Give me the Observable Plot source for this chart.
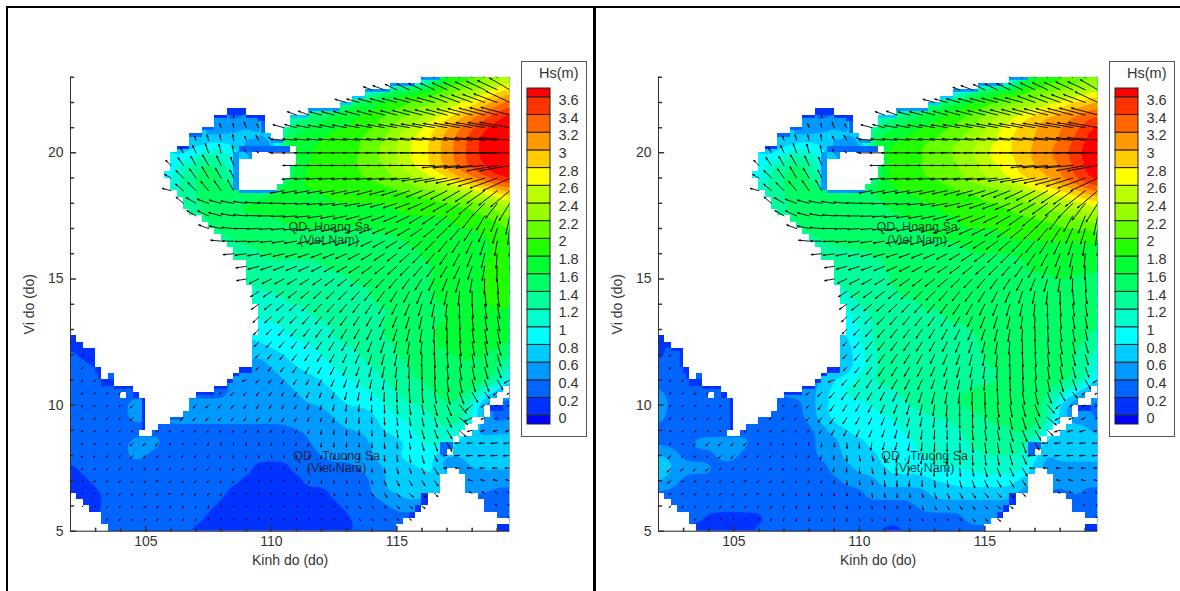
<!DOCTYPE html>
<html><head><meta charset="utf-8">
<style>
html,body{margin:0;padding:0;background:#fff}
#page{position:relative;width:1180px;height:591px;overflow:hidden;background:#fff}
#page>div{position:absolute}
.slot{background:transparent}
.line{background:#000;z-index:5}
svg{display:block}
</style>
<script src="https://cdn.jsdelivr.net/npm/d3@7"></script>
<script src="https://cdn.jsdelivr.net/npm/@observablehq/plot@0.6"></script>
</head><body>
<div id="page">
<div class="slot" id="a" style="left:0;top:0"></div>
<div class="slot" id="b" style="left:588px;top:0"></div>
<div class="slot" id="la" style="left:521px;top:61px"></div>
<div class="slot" id="lb" style="left:1109px;top:61px"></div>
<div class="line" style="left:6px;top:6px;width:1174px;height:2px"></div>
<div class="line" style="left:6px;top:6px;width:2px;height:585px"></div>
<div class="line" style="left:593px;top:6px;width:3px;height:585px"></div>
</div>
<script>
const hsLevels=[0,0.2,0.4,0.6,0.8,1,1.2,1.4,1.6,1.8,2,2.2,2.4,2.6,2.8,3,3.2,3.4,3.6];
const hsColors=["#0000ff","#0033ff","#0066ff","#0099ff","#00ccff","#00ffff","#00ffcc","#00ff99","#00ff66","#00ff33","#22ff00","#66ff00","#99ff00","#bbff00","#ffff00","#ffcc00","#ff9900","#ff6600","#ff3300","#ff0000"];
const xTicks=[105,110,115], yTicks=[5,10,15,20];
const xMinor=[103,104,106,107,108,109,111,112,113,114,116,117,118,119];
const yMinor=[6,7,8,9,11,12,13,14,16,17,18,19,21,22,23];
const placeNames=[["QD. Hoang Sa",112.3,17.05],["(Viet Nam)",112.3,16.53],["QD . Truong Sa",112.6,8.0],["(Viet Nam)",112.6,7.5]];

// Wave height in tenths of a metre: [latitude, first column (lon = 102 + col/2), values...]
const hsLeft=[
[23,28,5,14,17,18,19,21,22,24],
[22.5,24,11,15,16,17,18,19,20,22,23,25,27,29],
[22,22,15,16,17,18,19,20,21,22,24,26,27,29,31,33],
[21.5,13,3],
[21.5,18,12,14,15,16,17,18,19,20,21,22,24,25,27,29,31,33,35,37],
[21,12,5,5,7,5],
[21,17,14,15,16,17,18,18,19,20,21,23,24,26,28,30,32,34,36,37,38],
[20.5,10,5,7,7,7,5,7,5],
[20.5,17,16,17,18,18,19,19,20,21,22,24,26,27,29,31,33,35,37,38,38],
[20,9,7,10,12,11,9,5,3,3],
[20,17,16,17,18,18,19,19,20,21,23,24,26,27,29,31,33,35,37,38,38],
[19.5,8,9,12,13,15,13,11],
[19.5,18,17,18,19,19,20,20,21,22,24,26,27,29,31,33,35,36,38,38],
[19,8,9,13,14,16,14,11],
[19,18,18,18,19,19,19,20,20,21,22,23,25,26,28,30,32,34,36,37],
[18.5,8,11,13,14,15,15,15],
[18.5,17,17,18,18,18,18,19,19,19,19,20,20,21,22,23,24,25,27,29,31],
[18,9,12,14,15,15,16,16,17,17],
[18,17,17,17,17,18,18,18,18,18,18,18,19,19,19,20,20,21,22,23,25],
[17.5,10,13,15,16,16,16,16,16],
[17.5,17,16,17,17,17,17,17,17,17,17,18,18,18,18,18,19,19,20,21,23],
[17,11,13,15,15,15,15,15,16,16,16,16,16,16,16,16,16,16,17,17,17,17,18,18,18,19,20],
[16.5,12,13,14,14,14,14,15,15,15,15,15,15,15,15,16,16,16,16,16,17,17,17,18,18,19],
[16,13,13,14,14,14,14,14,14,14,15,15,15,15,15,15,16,16,16,16,17,17,18,18,18],
[15.5,14,13,14,14,14,14,14,14,14,14,15,15,15,15,16,16,16,16,17,17,18,19,19],
[15,14,12,13,13,13,13,13,13,14,14,14,14,15,15,15,16,16,16,17,17,18,19,19],
[14.5,15,12,12,12,13,13,13,13,14,14,14,15,15,15,16,16,17,17,18,18,19,18],
[14,15,11,11,12,12,12,13,13,13,13,14,14,14,15,15,16,16,17,17,18,18,18],
[13.5,15,10,11,11,11,12,12,12,13,13,13,14,14,15,15,15,16,16,17,17,18,18],
[13,15,9,9,10,11,11,12,12,13,13,14,14,15,15,16,16,17,17,17,18,18,17],
[12.5,0,1],
[12.5,15,8,9,9,10,10,11,12,12,13,13,14,14,15,15,16,16,17,17,17,17,16],
[12,0,3,1],
[12,15,6,7,8,9,9,10,11,11,12,13,13,14,15,15,16,16,16,16,16,15,14],
[11.5,0,3,3],
[11.5,15,5,6,7,8,9,9,10,11,11,12,13,13,14,15,15,15,16,16,15,14,12],
[11,0,3,3,3],
[11,14,5,5,5,6,7,7,8,9,10,10,11,12,13,14,14,15,15,16,15,15,14,8],
[10.5,0,3,3,3,3,3],
[10.5,12,3,5,5,5,5,5,6,7,7,8,9,10,10,11,12,13,13,14,15,15,14,10,6,4],
[10,0,3,3,3,3,3,5],
[10,10,5,5,5,5,5,5,5,5,5,6,6,7,8,8,9,10,11,12,12,13,14,13,10,5,3,4],
[9.5,0,3,3,3,3,3,5],
[9.5,9,5,5,5,5,5,5,5,5,5,5,5,5,6,7,7,7,9,10,10,11,12,13,13,11,5,3,4],
[9,0,3,3,3,3,3,3],
[9,7,3,3,3,3,3,3,3,3,3,3,3,4,4,5,5,6,6,7,8,9,10,11,11,12,11,6,5,5,5],
[8.5,0,3,3,3,3,3,5,5,5,3,3,3,3,3,3,3,3,3,3,3,4,5,5,5,5,6,7,7,8,10,11,12,6,6,7,8,8],
[8,0,3,3,3,3,3,5,4,3,3,3,3,3,3,3,3,3,3,3,3,3,4,5,5,5,6,7,8,9,10,8,5,6,7,8,8,8],
[7.5,0,1,3,3,3,3,3,3,3,3,3,3,3,3,3,3,1,1,1,3,3,3,3,3,4,5,6,7,7,8,9,4,5,6,6,6,6],
[7,0,1,1,3,3,3,3,3,3,3,3,3,3,3,3,1,1,1,1,1,3,3,3,3,3,4,6,7,7,7,8],
[7,32,5,5,5,5],
[6.5,0,1,1,1,3,3,3,3,3,3,3,3,3,3,1,1,1,1,1,1,1,1,3,3,3,4,6,6,7,7,6],
[6.5,32,4,4,3,3],
[6,1,1,1,3,3,3,3,3,3,3,3,3,1,1,1,1,1,1,1,1,1,1,3,3,3,3,5,5,5],
[6,34,3,3],
[5.5,3,3,3,3,3,3,3,3,3,1,1,1,1,1,1,1,1,1,1,1,1,3,3,3,3,3],
[5.5,35,3],
[5,4,3,3,3,3,3,3,1,1,1,1,1,1,1,1,1,1,1,1,1,3,3,3,3],
[5,35,1]
];
const hsRight=[
[23,28,5,15,17,18,19,20,21,21],
[22.5,24,9,15,16,17,18,19,20,21,22,23,24,25],
[22,22,15,16,17,18,19,20,21,22,23,25,26,28,29,31],
[21.5,13,3],
[21.5,18,12,14,15,16,17,18,19,21,22,24,25,27,29,30,31,32,33,34],
[21,12,5,5,7,5],
[21,17,14,15,16,17,18,19,20,21,22,24,26,27,29,30,31,32,33,35,37],
[20.5,10,5,7,7,7,5,7,5],
[20.5,17,16,17,18,19,20,20,21,22,23,25,26,28,29,30,31,32,34,36,38],
[20,9,7,10,12,11,9,5,3,3],
[20,17,16,18,19,19,20,21,22,23,24,26,27,28,29,31,32,33,35,37,38],
[19.5,8,9,12,13,15,13,11],
[19.5,18,18,19,19,20,21,21,22,23,25,26,27,29,30,31,32,34,36,38],
[19,8,9,13,14,16,14,11],
[19,18,18,19,19,20,20,21,22,23,24,25,27,28,29,30,32,34,36,37],
[18.5,8,11,13,14,15,15,15],
[18.5,17,16,17,18,18,19,19,19,20,20,21,21,22,24,26,27,28,29,31,33],
[18,9,12,14,15,15,16,16,16,16],
[18,17,15,16,17,17,18,18,19,19,19,20,20,20,21,22,23,24,25,26,27],
[17.5,10,13,15,15,15,15,15,15],
[17.5,17,14,15,16,16,17,17,18,18,19,19,19,20,20,20,21,21,22,23,24],
[17,11,13,15,15,15,15,15,14,15,15,16,16,17,17,18,18,18,18,19,19,19,19,20,20,20,21],
[16.5,12,13,14,14,14,14,14,14,14,15,15,16,16,16,17,17,17,18,18,18,18,18,18,18,18],
[16,13,13,14,14,14,14,14,14,14,14,15,15,15,16,16,16,16,16,17,17,17,17,17,17],
[15.5,14,12,13,14,14,14,14,14,14,14,14,15,15,15,15,15,16,16,16,16,16,16,16],
[15,14,12,13,14,14,14,14,15,15,15,15,15,15,15,15,15,16,16,16,16,16,16,16],
[14.5,15,12,13,13,14,14,14,14,15,15,15,15,15,15,15,15,15,16,16,16,15,15],
[14,15,11,12,13,13,14,14,14,14,14,15,15,15,15,15,15,15,15,15,15,15,15],
[13.5,15,9,11,12,13,13,13,14,14,14,14,14,15,15,15,15,15,15,15,15,15,14],
[13,15,8,10,12,13,13,13,13,13,14,14,14,14,15,15,15,15,15,15,15,14,14],
[12.5,0,1],
[12.5,15,7,10,12,13,13,13,13,13,13,14,14,14,15,15,15,15,15,15,15,14,13],
[12,0,1,3],
[12,15,7,9,11,13,13,13,13,12,13,13,14,14,15,15,15,15,15,15,14,13,10],
[11.5,0,3,3],
[11.5,15,6,9,11,13,13,13,13,12,12,13,13,14,14,15,15,15,15,15,14,13,9],
[11,0,3,3,3],
[11,14,8,9,11,12,13,13,13,13,12,12,12,13,13,14,14,15,15,15,15,14,13,7],
[10.5,0,5,3,3,3,3],
[10.5,12,5,7,9,11,11,11,11,12,13,13,14,14,14,15,15,15,15,15,15,14,12,9,5,4],
[10,0,7,3,3,3,3,3],
[10,10,3,3,5,7,9,9,9,10,11,11,12,13,13,14,14,15,15,15,15,15,15,13,7,4,4,4],
[9.5,0,5,3,3,3,3,3],
[9.5,9,3,3,3,5,7,9,9,9,9,10,10,11,11,12,12,13,13,14,15,15,15,15,14,7,5,5,3],
[9,0,3,3,3,3,3,3],
[9,7,3,3,3,3,3,3,5,7,8,9,9,9,10,10,11,11,11,12,12,13,13,14,15,14,9,7,7,7,5],
[8.5,0,3,3,3,5,5,5,5,5,3,3,3,3,3,5,5,7,7,9,9,9,10,10,11,11,12,12,13,13,13,13,10,7,7,7,7,7],
[8,0,7,5,3,3,3,5,5,3,3,3,3,3,3,5,5,7,7,7,9,9,10,10,11,11,11,12,12,12,12,12,9,5,7,7,7,7],
[7.5,0,7,7,5,5,5,3,3,3,3,3,3,3,3,3,5,5,7,7,8,9,9,9,10,10,10,10,11,11,11,11,7,5,5,5,5,5],
[7,0,7,5,3,3,3,3,3,3,3,3,3,3,3,3,3,5,5,5,7,7,7,7,8,8,9,9,9,9,9,7],
[7,32,5,5,5,5],
[6.5,0,3,3,3,3,3,3,3,3,3,3,3,3,3,3,3,3,3,5,5,5,5,5,7,7,7,7,7,7,7,5],
[6.5,32,3,5,3,3],
[6,1,3,3,3,3,3,3,3,3,3,3,3,3,3,3,3,3,3,3,3,3,5,5,5,5,5,5,5,5],
[6,34,3,3],
[5.5,3,3,1,1,1,1,1,3,3,3,3,3,3,3,3,3,3,3,3,3,3,3,3,5,5,5],
[5.5,35,3],
[5,4,1,1,1,1,3,3,3,3,3,3,3,3,3,3,1,1,3,3,3,3,3,3,3],
[5,35,1]
];
// Direction the waves travel, degrees clockwise from north: [latitude, first column, values...]
const waveDir=[
[23,28,300,300,300,300,300,300,300,300],
[22.5,24,290,290,295,295,295,295,295,295,295,295,295,300],
[22,22,285,285,285,285,285,285,285,285,290,290,290,290,290,295],
[21.5,13,180],
[21.5,18,290,290,285,285,285,285,285,285,285,285,285,285,285,285,285,285,285,285],
[21,12,340,350,340,330],
[21,17,285,285,280,280,280,280,280,280,280,280,280,280,280,280,280,280,280,280,280],
[20.5,10,340,345,345,350,340,330,320],
[20.5,17,275,275,275,275,275,275,275,275,275,275,275,275,275,275,275,275,275,275,275],
[20,9,330,335,340,345,350,335,300,280],
[20,17,270,270,270,270,270,270,270,270,270,270,270,270,270,270,270,270,270,270,270],
[19.5,8,315,325,330,330,335,340],
[19.5,18,270,270,270,270,270,270,270,270,270,270,270,270,265,265,265,265,260,260],
[19,8,300,315,325,330,330,335],
[19,18,265,265,265,265,265,265,265,265,265,265,262,260,260,258,255,253,250,245],
[18.5,8,285,310,315,320,325,330],
[18.5,17,260,260,260,260,260,258,258,255,255,253,250,248,245,243,240,237,235,232,230],
[18,9,310,300,290,285,280,278,275,272],
[18,17,270,268,266,265,264,262,260,258,255,252,250,247,243,240,235,230,225,218,212],
[17.5,10,300,295,285,280,275,272,270],
[17.5,17,268,266,264,262,260,258,255,252,250,247,244,240,236,231,225,218,210,202,192],
[17,11,290,282,275,270,268,266,265,264,262,260,258,255,252,250,247,244,240,236,232,227,220,213,205,197,188],
[16.5,12,275,270,268,266,264,262,260,258,255,253,250,248,245,242,238,234,230,225,219,213,206,198,190,182],
[16,13,265,262,260,258,256,254,252,250,248,246,243,240,237,233,229,225,220,214,208,201,193,185,178],
[15.5,14,262,255,252,250,248,246,244,242,240,238,235,232,229,225,221,216,211,205,198,190,182,176],
[15,14,260,245,243,242,240,238,236,234,232,230,227,224,220,216,212,207,202,196,189,182,176,172],
[14.5,15,238,236,235,233,231,229,227,225,222,219,216,212,208,203,198,192,186,180,174,172,170],
[14,15,235,232,230,228,226,224,222,220,217,214,210,206,202,197,192,187,181,176,172,170,170],
[13.5,15,225,228,226,224,222,220,218,216,213,210,206,202,198,193,188,183,178,174,170,170,168],
[13,15,225,224,222,220,218,216,214,212,209,206,202,198,194,189,184,180,176,172,170,168,165],
[12.5,0,225],
[12.5,15,225,222,220,218,216,214,212,209,206,202,198,194,190,186,181,178,174,170,168,165,160],
[12,0,225,225],
[12,15,225,220,218,216,214,212,209,206,203,199,195,191,187,182,178,175,172,170,167,163,155],
[11.5,0,225,225],
[11.5,15,225,218,216,214,212,210,207,204,200,196,192,188,184,180,177,174,171,168,165,160,150],
[11,0,225,225,225],
[11,14,250,222,218,214,212,210,207,204,201,197,193,189,185,181,178,175,172,169,165,160,150,240],
[10.5,0,225,225,225,225,225],
[10.5,12,235,225,220,216,213,211,208,205,202,198,194,190,186,182,179,176,173,170,166,160,150,140,235,235],
[10,0,225,225,225,225,225,225],
[10,10,225,225,222,218,215,213,210,207,204,201,197,193,189,185,181,178,175,172,169,165,158,140,230,240,245,245],
[9.5,0,225,225,225,225,225,225],
[9.5,9,230,228,225,222,218,215,212,209,206,203,200,196,192,188,184,180,177,174,171,168,163,155,130,245,245,245,245],
[9,0,225,225,225,225,225,225],
[9,7,225,225,225,225,222,220,216,212,208,205,202,199,195,191,187,183,180,177,174,171,168,164,158,150,135,255,255,255,255],
[8.5,0,225,225,225,225,225,225,225,225,215,210,205,200,195,185,180,175,180,190,195,195,190,185,182,180,177,175,172,170,165,160,150,265,265,265,265,265],
[8,0,225,225,225,225,225,225,225,225,225,225,215,210,205,200,190,180,170,165,175,185,190,188,185,182,178,176,173,170,165,155,268,268,268,268,268,268],
[7.5,0,225,225,225,225,225,230,230,225,225,225,220,215,210,205,195,185,175,170,175,185,195,190,185,180,175,170,165,160,155,150,270,270,270,270,270,270],
[7,0,230,235,240,240,235,225,225,250,225,225,225,215,205,195,185,175,170,170,175,180,185,180,175,170,165,160,155,150,148,145],
[7,32,285,285,285,285],
[6.5,0,240,240,240,230,225,225,225,225,250,225,215,205,195,185,180,175,170,170,172,175,170,165,160,155,150,145,140,135,135,135],
[6.5,32,300,300,300,300],
[6,1,230,230,225,225,225,225,220,215,205,195,190,185,180,175,175,170,170,170,170,165,160,155,150,145,140,135,130,130],
[6,34,310,310],
[5.5,3,230,225,225,225,220,215,205,195,190,185,180,175,175,170,170,170,165,160,155,150,145,140,135,130,130],
[5.5,35,320],
[5,4,225,225,225,220,215,205,195,190,185,180,175,175,170,170,170,165,160,155,150,145,140,135,130],
[5,35,320]
];
// Land cells, quarter-degree indices: [lat index start, end, lon index start, end]
const landCells=[
[71,72,0,56],[70,71,0,51],[69,70,0,47],[68,69,0,45],[67,68,0,43],
[66,67,0,25],[66,67,28,38],[65,66,0,23],[65,66,31,35],[64,65,0,23],[64,65,31,35],
[63,64,0,21],[63,64,31,34],[62,63,0,19],[62,63,32,34],[61,62,0,19],[60,61,0,17],
[59,60,0,16],[58,59,0,16],[57,58,0,16],[56,57,0,15],[55,56,0,16],[54,55,0,16],[53,54,0,17],
[52,53,0,18],[51,52,0,18],[50,51,0,19],[49,50,0,21],[48,49,0,22],[47,48,0,23],[46,47,0,24],
[45,46,0,25],[44,45,0,26],[43,44,0,26],[42,43,0,28],[41,42,0,28],[39,41,0,28],[36,39,0,29],
[33,36,0,30],[31,33,0,30],[30,31,1,29],[29,30,2,29],[26,29,4,29],[25,26,5,27],
[24,25,5,6],[24,25,7,26],[23,24,7,25],[22,23,10,23],[21,22,11,20],[21,22,8,9],[19,21,12,19],
[18,19,12,18],[17,18,12,16],[16,17,12,14],[15,16,11,13],
[60,61,35,36],[59,60,29,36],[58,59,27,36],[56,58,27,35],[55,56,27,34],[54,55,27,33],
[9,10,60,62],[6,9,59,63],[5,6,57,65],[4,5,57,66],[3,4,56,66],[2,3,55,68],[1,2,53,70],[0,1,52,68],
[12,13,60,61],[14,15,61,62],[15,16,62,64],[16,17,63,65],[17,18,64,66],[18,20,66,67],[20,21,67,69],[21,22,68,70],[22,23,69,70],
[5,6,0,1],[4,5,0,2],[3,4,0,3],[1,3,0,5],[0,1,0,6]
];
// Low-wave cells along the coasts: [lat start, end, lon start, end, Hs in tenths]
const coastCells=[
[71.5,72,56,59,5],[70.5,71,51,55,5],[69.5,70,47,51,5],[68.5,69,45,47,7],[67.5,68,43,45,7],[66.5,67,38,43,5],[65.5,66,35,38,7],
[66,67,25,28,1],[65.5,66,23,25,1],[65.5,66,28,31,1],[65,65.5,30,31,1],[63.5,64,21,23,3],[62.5,63,19,21,3],[60.5,61,17,19,1],
[63,65,30.5,31,3],[61.5,62.5,32,34,5],[60,61,27,35,3],[54,60,26,27,5],[53.5,54,27,33,5],
[30,31,0,1,1],[29,30,1,2,1],[28.5,29,2,4,1],[26,28.5,3.5,4,1],[25,26,4,5,1],[24,25,4.5,5,1],[23,24,5,7,1],[22.5,23,7,10,1],[21,22,10,11,1],[16,21,11.5,12,1],[15,16,11,13,1],
[21.5,22,20,23,1],[22.5,23,23,25,1],[23.5,24,25,26,1],[24.5,25,26,27,1],[25,26,27,29,1],[19,21,18.5,19,3],[17.5,18,16,18,3],[16.5,17,14,16,3],[15.5,16,13,14,3],
[12,14,59,61,3],[4,6,56,57,1],[3,4,55,56,1],[2,3,54,55,1],[19,20,67,69,1],[21,22,69,70,3],[0,1,68,70,1]
];

const W=590,H=591;
const degreesPerMetre=0.32; // arrow length on the map for one metre of wave height
function tick(l){return {draw(c){c.moveTo(0,0);c.lineTo(0,-l)}}}
function points(rows){const m=[];for(const r of rows){const [lat,s,...v]=r;v.forEach((h,i)=>m.push({lat,col:s+i,lon:102+(s+i)/2,hs:h/10}));}return m;}
function panel(hsRows){
  const pts=points(hsRows);
  const dirs=new Map();
  for(const r of waveDir){const [lat,s,...v]=r;v.forEach((d,i)=>dirs.set(lat+"_"+(s+i),d));}
  const arrows=pts.filter(p=>dirs.has(p.lat+"_"+p.col)).map(p=>{
    const dir=dirs.get(p.lat+"_"+p.col),a=dir*Math.PI/180,l=p.hs*degreesPerMetre;
    return {...p,dir,lon2:p.lon+l*Math.sin(a),lat2:p.lat+l*Math.cos(a)};
  });
  const rectOpt={x1:d=>102+d[2]/4,x2:d=>102+d[3]/4,y1:d=>5+d[0]/4,y2:d=>5+d[1]/4,shapeRendering:"crispEdges"};
  return Plot.plot({
    width:W,height:H,marginLeft:70,marginRight:80.7,marginTop:76.7,marginBottom:60.3,
    style:{fontFamily:"'Liberation Sans',Arial,sans-serif",fontSize:"14px",color:"#333",background:"transparent",overflow:"visible"},
    x:{domain:[102,119.5]},y:{domain:[5,23]},
    color:{type:"threshold",domain:hsLevels,range:hsColors},
    marks:[
      Plot.contour(pts,{x:"lon",y:"lat",fill:"hs",interpolate:"barycentric",thresholds:hsLevels,pixelSize:1,blur:5,clip:true}),
      Plot.rect(coastCells,{...rectOpt,fill:d=>d[4]/10}),
      Plot.rect(landCells,{...rectOpt,fill:"white"}),
      Plot.ruleX([102],{stroke:"#333"}),
      Plot.ruleY([5],{stroke:"#222"}),
      Plot.vector(xTicks,{x:d=>d,y:5,length:5,rotate:0,anchor:"start",shape:tick(5),stroke:"#333"}),
      Plot.vector(xMinor,{x:d=>d,y:5,length:3,rotate:0,anchor:"start",shape:tick(3),stroke:"#333"}),
      Plot.vector(yTicks,{y:d=>d,x:102,length:5,rotate:90,anchor:"start",shape:tick(5),stroke:"#333"}),
      Plot.vector(yMinor,{y:d=>d,x:102,length:3,rotate:90,anchor:"start",shape:tick(3),stroke:"#333"}),
      Plot.axisX({ticks:xTicks,tickSize:0,tickPadding:5,tickFormat:d=>d,fontSize:14,label:"Kinh do (do)",labelAnchor:"center",labelArrow:"none",labelOffset:34}),
      Plot.axisY({ticks:yTicks,tickSize:0,tickPadding:7,tickFormat:d=>d,fontSize:14,label:"Vi do (do)",labelAnchor:"center",labelArrow:"none",labelOffset:46}),
      Plot.arrow(arrows,{x1:"lon",y1:"lat",x2:"lon2",y2:"lat2",stroke:"#000",strokeWidth:0.9,headLength:3,headAngle:35,clip:"frame"}),
      Plot.text(placeNames,{x:d=>d[1],y:d=>d[2],text:d=>d[0],fontSize:12.5,fill:"#112",fillOpacity:.85})
    ]
  });
}
function legend(){
  const bands=hsColors.map((c,i)=>({c,lo:i===0?-0.1:hsLevels[i-1],hi:i===hsColors.length-1?3.7:hsLevels[i]}));
  return Plot.plot({
    width:66,height:376,marginTop:27,marginBottom:13,marginLeft:6,marginRight:37,
    style:{fontFamily:"'Liberation Sans',Arial,sans-serif",fontSize:"14.5px",color:"#333",background:"#fff",outline:"1px solid #555",outlineOffset:"-1px",overflow:"visible"},
    x:{axis:null,domain:[0,1]},y:{domain:[-0.1,3.7]},
    marks:[
      Plot.rect(bands,{x1:0,x2:1,y1:"lo",y2:"hi",fill:"c",stroke:"#222",strokeWidth:1}),
      Plot.axisY({anchor:"right",ticks:hsLevels,tickFormat:d=>String(d),tickSize:0,tickPadding:8,label:null,fontSize:14.5,dy:3}),
      Plot.text(["Hs(m)"],{frameAnchor:"top-right",dx:28,dy:-21,fontSize:14.5,fill:"#333",textAnchor:"end"})
    ]
  });
}
document.getElementById("a").append(panel(hsLeft));
document.getElementById("b").append(panel(hsRight));
document.getElementById("la").append(legend());
document.getElementById("lb").append(legend());
</script>
</body></html>
